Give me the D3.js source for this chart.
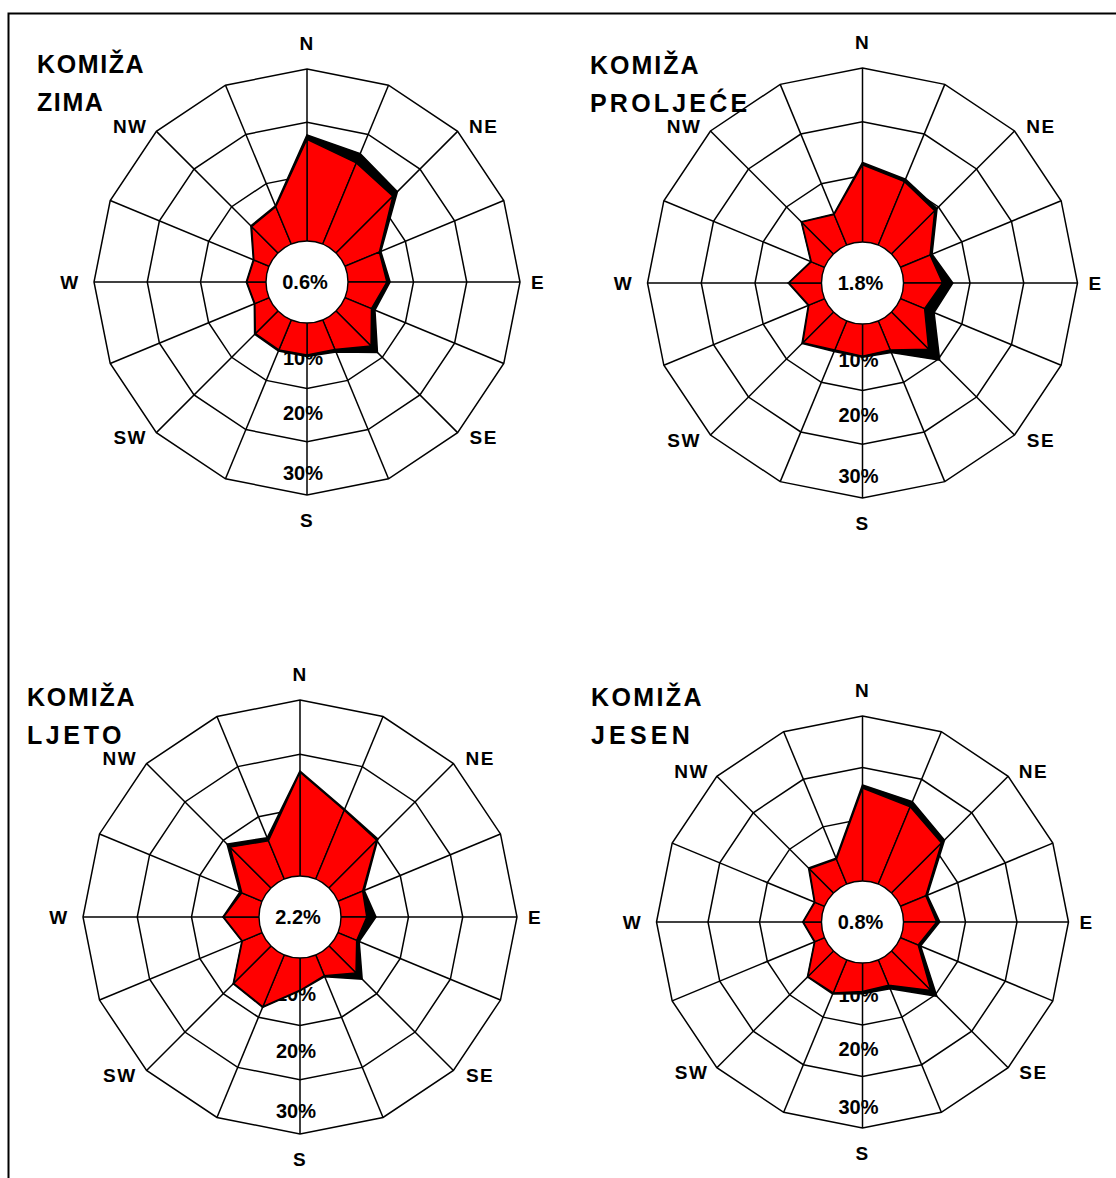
<!DOCTYPE html>
<html>
<head>
<meta charset="utf-8">
<script src="https://cdn.jsdelivr.net/npm/d3@7"></script>
<style>
  body { margin: 0; background: #fff; }
  text { font-family: "Liberation Sans", Arial, sans-serif; font-weight: bold; fill: #000; }
</style>
</head>
<body>
<svg id="chart" width="1116" height="1178"></svg>
<script>
// 16 wind directions, clockwise from north
const directions = ["N","NNE","NE","ENE","E","ESE","SE","SSE","S","SSW","SW","WSW","W","WNW","NW","NNW"];
const compassPoints = ["N","NE","E","SE","S","SW","W","NW"];
const ringTicks = [10, 20, 30];

const station = "KOMIŽA";
const seasons = ["ZIMA", "PROLJEĆE", "LJETO", "JESEN"];
const calms = [0.6, 1.8, 2.2, 0.8];   // % of calm periods, shown in the centre

// Frequency (%) per direction: red = main class, black = including the upper class
const zimaWeak     = [16.8, 14.2, 12.8, 4.7, 5.0, 3.1, 7.0, 3.7, 3.7, 3.8, 3.7, 0.6, 1.3, 0.8, 4.7, 5.3];
const zimaAll      = [17.6, 16.1, 14.0, 5.0, 5.6, 3.8, 8.7, 4.2, 4.0, 4.0, 3.9, 0.7, 1.4, 0.9, 4.9, 5.5];
const proljeceWeak = [12.0, 10.4, 9.0, 3.6, 4.9, 2.5, 7.4, 3.5, 3.6, 3.5, 5.7, 0.8, 3.7, 0.3, 6.0, 3.8];
const proljeceAll  = [12.4, 10.9, 9.6, 4.0, 6.8, 4.4, 10.3, 4.0, 3.8, 3.8, 5.9, 0.9, 3.8, 0.4, 6.1, 3.9];
const ljetoWeak    = [16.7, 11.3, 10.0, 2.5, 2.3, 1.3, 4.6, 1.7, 3.5, 7.9, 7.3, 1.5, 4.1, 1.6, 8.2, 5.2];
const ljetoAll     = [16.9, 11.5, 10.3, 2.8, 4.0, 1.8, 6.2, 1.9, 3.6, 8.0, 7.4, 1.6, 4.2, 2.0, 9.0, 5.8];
const jesenWeak    = [16.0, 14.2, 11.7, 3.3, 4.4, 1.7, 8.8, 3.3, 3.5, 4.9, 5.0, 0.0, 1.5, 0.0, 4.6, 3.2];
const jesenAll     = [16.6, 15.3, 12.5, 3.6, 5.0, 2.2, 10.4, 4.0, 3.9, 5.1, 5.1, 0.1, 1.6, 0.1, 4.8, 3.4];

const weakSeries = [zimaWeak, proljeceWeak, ljetoWeak, jesenWeak];
const allSeries  = [zimaAll, proljeceAll, ljetoAll, jesenAll];

// Panel placement: centre, outer radius, title anchor and title letter spacing
const panels = [
  { cx: 307,   cy: 282, R: 213, tx: 37,  ty: 73,  ls1: 1.6, ls2: 1.6 },
  { cx: 862.5, cy: 283, R: 215, tx: 590, ty: 74,  ls1: 2.0, ls2: 3.2 },
  { cx: 300,   cy: 917, R: 217, tx: 27,  ty: 706, ls1: 1.8, ls2: 3.6 },
  { cx: 862.5, cy: 922, R: 206, tx: 591, ty: 706, ls1: 2.4, ls2: 4.2 }
];
// ring labels sit inside their ring, as a fraction of the outer radius
const tickLabelRadius = [0.355, 0.615, 0.895];

const svg = d3.select("#chart");

// frame along the top and left edge
svg.append("path")
  .attr("d", "M8.5,1178 V13.5 H1116")
  .attr("fill", "none").attr("stroke", "#000").attr("stroke-width", 2);

const angleOf = i => i * 2 * Math.PI / directions.length;
const calmRadius = 41;

panels.forEach((p, k) => {
  const g = svg.append("g").attr("transform", `translate(${p.cx},${p.cy})`);

  // radial scale: 0 % sits on the first (hidden) ring, 30 % on the outer ring
  const r = d3.scaleLinear().domain([0, 30]).range([p.R / 4, p.R]);

  const ringLine = d3.lineRadial()
    .angle((d, i) => angleOf(i))
    .radius(d => r(d))
    .curve(d3.curveLinearClosed);

  // polygonal grid rings
  [0, ...ringTicks].forEach(t => {
    g.append("path")
      .attr("d", ringLine(directions.map(() => t)))
      .attr("fill", "none").attr("stroke", "#000").attr("stroke-width", 1.5);
  });

  // spokes
  directions.forEach((d, i) => {
    const a = angleOf(i);
    g.append("line")
      .attr("x1", 0).attr("y1", 0)
      .attr("x2", p.R * Math.sin(a)).attr("y2", -p.R * Math.cos(a))
      .attr("stroke", "#000").attr("stroke-width", 1.5);
  });

  // ring value labels along the south spoke
  ringTicks.forEach((t, i) => {
    g.append("text")
      .attr("x", -4).attr("y", tickLabelRadius[i] * p.R)
      .attr("dy", "0.36em")
      .attr("text-anchor", "middle")
      .attr("font-size", 20)
      .text(t + "%");
  });

  // total frequency polygon (black)
  g.append("path")
    .attr("d", ringLine(allSeries[k]))
    .attr("fill", "#000").attr("stroke", "#000").attr("stroke-width", 1.6)
    .attr("stroke-linejoin", "miter");

  // main class as 16 red sectors
  const weak = weakSeries[k];
  const pt = (v, i) => {
    const a = angleOf(i);
    return [r(v) * Math.sin(a), -r(v) * Math.cos(a)];
  };
  weak.forEach((v, i) => {
    const j = (i + 1) % weak.length;
    const a = pt(v, i), b = pt(weak[j], j);
    g.append("path")
      .attr("d", d3.line()([[0, 0], a, b]) + "Z")
      .attr("fill", "#ff0000").attr("stroke", "#000").attr("stroke-width", 1.4)
      .attr("stroke-linejoin", "miter");
  });

  // calm circle
  g.append("circle").attr("r", calmRadius)
    .attr("fill", "#fff").attr("stroke", "#000").attr("stroke-width", 1.4);
  g.append("text")
    .attr("x", -2).attr("y", 0).attr("dy", "0.36em")
    .attr("text-anchor", "middle").attr("font-size", 20)
    .text(calms[k].toFixed(1) + "%");

  // compass point labels
  const labelPos = {
    N:  [0, -(p.R + 26)], S: [0, p.R + 25],
    E:  [p.R + 18, 0],    W: [-(p.R + 24), 0],
    NE: [0.83 * p.R, -0.73 * p.R], SE: [0.83 * p.R, 0.73 * p.R],
    SW: [-0.83 * p.R, 0.73 * p.R], NW: [-0.83 * p.R, -0.73 * p.R]
  };
  compassPoints.forEach(c => {
    g.append("text")
      .attr("x", labelPos[c][0]).attr("y", labelPos[c][1]).attr("dy", "0.36em")
      .attr("text-anchor", "middle").attr("font-size", 19)
      .attr("letter-spacing", 1.5)
      .text(c);
  });

  // title
  svg.append("text").attr("x", p.tx).attr("y", p.ty)
    .attr("font-size", 25).attr("letter-spacing", p.ls1).text(station);
  svg.append("text").attr("x", p.tx).attr("y", p.ty + 38)
    .attr("font-size", 25).attr("letter-spacing", p.ls2).text(seasons[k]);
});
</script>
</body>
</html>
